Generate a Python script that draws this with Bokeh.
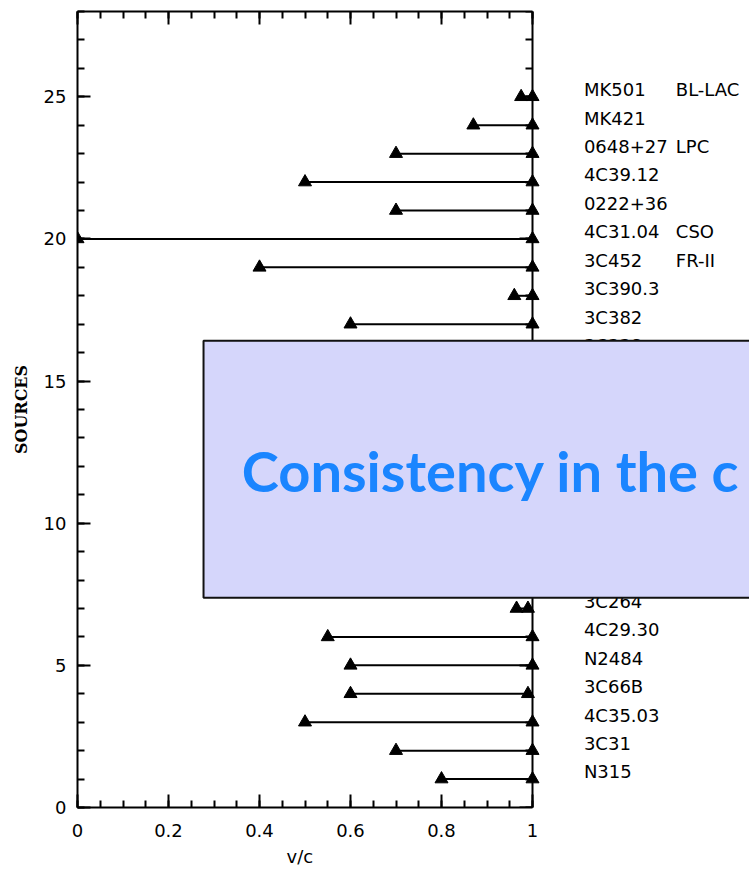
from bokeh.plotting import figure
from bokeh.models import (ColumnDataSource, LinearAxis, SingleIntervalTicker, Range1d,
                          LabelSet, Label, BoxAnnotation, CustomLabelingPolicy, Title)
from bokeh.embed import file_html
from bokeh.resources import INLINE
from bokeh.core.properties import value

# Source rows, counted from the bottom of the plot
rows = [1, 2, 3, 4, 5, 6, 7, 17, 18, 19, 20, 21, 22, 23, 24, 25]
v_low = [0.80, 0.70, 0.50, 0.60, 0.60, 0.55, 0.965, 0.60, 0.96, 0.40,
         0.00, 0.70, 0.50, 0.70, 0.87, 0.975]
v_high = [1.00, 1.00, 1.00, 0.99, 1.00, 1.00, 0.99, 1.00, 1.00, 1.00,
          1.00, 1.00, 1.00, 1.00, 1.00, 1.00]

# Source names printed beside the frame
label_rows = [1, 2, 3, 4, 5, 6, 7, 16, 17, 18, 19, 20, 21, 22, 23, 24, 25]
label_names = ["N315", "3C31", "4C35.03", "3C66B", "N2484", "4C29.30", "3C264",
               "3C338", "3C382", "3C390.3", "3C452", "4C31.04", "0222+36",
               "4C39.12", "0648+27", "MK421", "MK501"]

# Class names, second column
class_rows = [25, 23, 20, 19]
class_names = ["BL-LAC", "LPC", "CSO", "FR-II"]

x_tick_labels = {0: "0", 1: "1"}

banner_text = "Consistency in the c"

FONT = "DejaVu Sans"

# Canvas geometry: x = 0 sits at 77 px and x = 1 at 532 px; the frame runs on
# to the right edge so the source names and the banner can live inside it.
W, H = 749, 874
X0_PX, X1_PX = 77, 532
x_end = (W - X0_PX) / (X1_PX - X0_PX)

p = figure(width=W, height=H, x_range=Range1d(0, x_end), y_range=Range1d(0, 28),
           output_backend="svg", toolbar_location=None,
           min_border_left=X0_PX, min_border_right=0, min_border_top=11,
           min_border_bottom=67, x_axis_location=None, y_axis_location=None)
p.grid.visible = False
p.outline_line_color = None
p.background_fill_color = "white"
p.border_fill_color = "white"

no_labels = CustomLabelingPolicy(code="for (const i of indices) indices.unset(i)\nreturn indices")


def make_axis(interval, n_minor, labels, **kw):
    ax = LinearAxis(ticker=SingleIntervalTicker(interval=interval, num_minor_ticks=n_minor), **kw)
    ax.major_tick_in = 13
    ax.major_tick_out = 0
    ax.minor_tick_in = 7
    ax.minor_tick_out = 0
    ax.axis_line_width = 2
    ax.major_tick_line_width = 2
    ax.minor_tick_line_width = 2
    ax.axis_line_color = "black"
    ax.major_tick_line_color = "black"
    ax.minor_tick_line_color = "black"
    ax.major_label_text_font = FONT
    ax.major_label_text_color = "black"
    if labels:
        ax.major_label_text_font_size = "18px"
    else:
        ax.major_label_text_font_size = "1px"
        ax.major_label_standoff = 0
        ax.major_label_policy = no_labels
    return ax


bottom = make_axis(0.2, 4, True, bounds=(0, 1))
bottom.major_label_standoff = 16
bottom.major_label_overrides = x_tick_labels
p.add_layout(bottom, "below")

# x-axis title, centred under the 0..1 stretch of the axis
p.add_layout(Title(text="v/c", align="left", offset=209, standoff=9,
                   text_font=FONT, text_font_size="18px", text_font_style="normal",
                   text_color="black"), "below")

left = make_axis(5, 5, True)
left.major_label_standoff = 11
left.axis_label = "SOURCES"
left.axis_label_text_font = "DejaVu Serif"
left.axis_label_text_font_style = "bold"
left.axis_label_text_font_size = "16px"
left.axis_label_text_color = "black"
left.axis_label_standoff = 10
p.add_layout(left, "left")

p.add_layout(make_axis(0.2, 4, False, bounds=(0, 1)), "above")
p.add_layout(make_axis(5, 5, False, fixed_location=1), "right")

src = ColumnDataSource(dict(y=rows, lo=v_low, hi=v_high))
p.segment(x0="lo", y0="y", x1="hi", y1="y", source=src, line_color="black", line_width=2)
p.scatter(x="lo", y="y", source=src, marker="triangle", size=13,
          fill_color="black", line_color="black")
p.scatter(x="hi", y="y", source=src, marker="triangle", size=13,
          fill_color="black", line_color="black")

name_src = ColumnDataSource(dict(y=[r + 0.25 for r in label_rows], name=label_names))
p.add_layout(LabelSet(x=1.113, y="y", text="name", source=name_src,
                      text_font=value(FONT), text_font_size="18px",
                      text_color="black", text_baseline="middle"))

class_src = ColumnDataSource(dict(y=[r + 0.25 for r in class_rows], name=class_names))
p.add_layout(LabelSet(x=1.315, y="y", text="name", source=class_src,
                      text_font=value(FONT), text_font_size="18px",
                      text_color="black", text_baseline="middle"))

p.add_layout(BoxAnnotation(left=0.277, right=1.7, bottom=7.38, top=16.42,
                           fill_color="#d5d6fb", fill_alpha=1.0,
                           line_color="#111111", line_alpha=1.0, line_width=2,
                           level="overlay"))
p.add_layout(Label(x=0.361, y=11.85, text=banner_text, text_font="Lato",
                   text_font_style="bold", text_font_size="56px",
                   text_color="#1a85ff", text_baseline="alphabetic", level="overlay"))

open("out.html", "w").write(file_html(p, INLINE))
